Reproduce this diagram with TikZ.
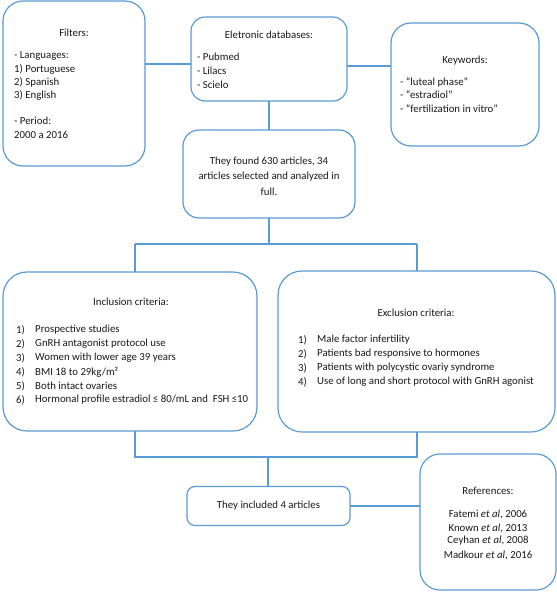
\documentclass[tikz,border=0pt]{standalone}
\usepackage{fontspec}
\setmainfont{Carlito}
\definecolor{lineblue}{RGB}{91,155,213}
\definecolor{txt}{RGB}{25,25,25}
\begin{document}
\begin{tikzpicture}[x=1pt,y=-1pt,
  box/.style={draw=lineblue,line width=1.2pt,fill=white,inner sep=0pt,outer sep=0pt},
  conn/.style={draw=lineblue,line width=1.2pt},
  lbl/.style={inner sep=0pt,text=txt,font=\fontsize{10.8}{13.5}\selectfont},
  lft/.style={lbl,anchor=west},
  ctr/.style={lbl,anchor=center}]
\useasboundingbox (0,0) rectangle (557,592);
% boxes
\node[box,rounded corners=20pt,minimum width=142pt,minimum height=165pt] (filt) at (74,83.5) {};
\node[box,rounded corners=14pt,minimum width=156pt,minimum height=84pt] (db) at (269,59) {};
\node[box,rounded corners=20pt,minimum width=148pt,minimum height=123pt] (kw) at (465,84.5) {};
\node[box,rounded corners=16pt,minimum width=172pt,minimum height=88pt] (found) at (269,174) {};
\node[box,rounded corners=24pt,minimum width=254pt,minimum height=159pt] (incl) at (130,351.5) {};
\node[box,rounded corners=24pt,minimum width=277pt,minimum height=161pt] (excl) at (416.5,351.5) {};
\node[box,rounded corners=8pt,minimum width=163pt,minimum height=39pt] (incl4) at (268.5,506) {};
\node[box,rounded corners=20pt,minimum width=136pt,minimum height=136pt] (refs) at (488,522) {};
% connectors
\coordinate (j1) at (269,244);
\coordinate (jl) at (135,244);
\coordinate (jr) at (417,244);
\coordinate (k1) at (268,457);
\coordinate (kl) at (135,457);
\coordinate (kr) at (417,457);
\draw[conn] (filt.east |- 0,64) -- (db.west |- 0,64);
\draw[conn] (db.east |- 0,66) -- (kw.west |- 0,66);
\draw[conn] (db.south) -- (found.north);
\draw[conn] (found.south) -- (j1);
\draw[conn] (jl) -- (jr);
\draw[conn] (jl) -- (jl |- incl.north);
\draw[conn] (jr) -- (jr |- excl.north);
\draw[conn] (kl |- incl.south) -- (kl) -- (kr) -- (kr |- excl.south);
\draw[conn] (k1) -- (k1 |- incl4.north);
\draw[conn] (incl4.east) -- (refs.west |- incl4.east);
% texts: filters
\node[ctr] (tf0) at (74,33) {Filters:};
\node[lft] (tf1) at (14,56) {- Languages:};
\node[lft] (tf2) at (14,69) {1) Portuguese};
\node[lft] (tf3) at (14,82) {2) Spanish};
\node[lft] (tf4) at (14,95) {3) English};
\node[lft] (tf5) at (14,121) {- Period:};
\node[lft] (tf6) at (14,135) {2000 a 2016};
% databases
\node[ctr] (td0) at (269,35) {Eletronic databases:};
\node[lft] (td1) at (197,57) {- Pubmed};
\node[lft] (td2) at (197,71) {- Lilacs};
\node[lft] (td3) at (197,85) {- Scielo};
% keywords
\node[ctr] (tk0) at (465,61) {Keywords:};
\node[lft] (tk1) at (400,82) {- “luteal phase”};
\node[lft] (tk2) at (400,95) {- “estradiol”};
\node[lft] (tk3) at (400,109) {- “fertilization in vitro”};
% found
\node[ctr] (tn1) at (269,162) {They found 630 articles, 34};
\node[ctr] (tn2) at (269,177) {articles selected and analyzed in};
\node[ctr] (tn3) at (269,192) {full.};
% inclusion
\node[ctr] (ti0) at (131,302) {Inclusion criteria:};
\foreach \n/\t [count=\i] in {1/{Prospective studies},2/{GnRH antagonist protocol use},3/{Women with lower age 39 years},4/{BMI 18 to 29kg/m²},5/{Both intact ovaries},6/{Hormonal profile estradiol ≤ 80/mL and\ \ FSH ≤10}}{
  \node[lft] (tin\i) at (16,{316+14*\i}) {\n)};
  \node[lft] (tit\i) at (35,{316+14*\i}) {\t};
}
% exclusion
\node[ctr] (te0) at (416,313) {Exclusion criteria:};
\foreach \n/\t [count=\i] in {1/{Male factor infertility},2/{Patients bad responsive to hormones},3/{Patients with polycystic ovariy syndrome},4/{Use of long and short protocol with GnRH agonist}}{
  \node[lft] (ten\i) at (298,{326+14*\i}) {\n)};
  \node[lft] (tet\i) at (317,{326+14*\i}) {\t};
}
% included
\node[ctr] (tc) at (268.5,506) {They included 4 articles};
% references
\node[ctr] (tr0) at (488,491) {References:};
\node[ctr] (tr1) at (488,514) {Fatemi \textit{et al}, 2006};
\node[ctr] (tr2) at (488,528) {Known \textit{et al}, 2013};
\node[ctr] (tr3) at (488,541) {Ceyhan \textit{et al}, 2008};
\node[ctr] (tr4) at (488,555) {Madkour \textit{et al}, 2016};
\end{tikzpicture}
\end{document}
